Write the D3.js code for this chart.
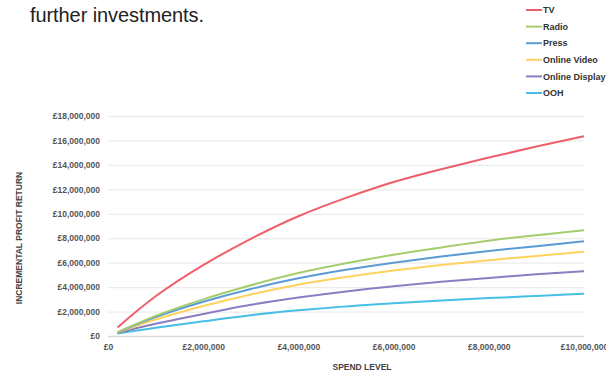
<meta charset="utf-8">
<head>
    <script type="text/javascript" src="https://cdn.jsdelivr.net/npm/d3@7"></script>
    <style>
        body { margin: 0; background: #fff; }
    </style>
</head>
<body>
    <svg width=606 height=372></svg>
</body>
<script>
    // spend levels (£) and incremental profit return (£m) per channel
    let spend = [200000, 1000000, 2000000, 3000000, 4000000, 5000000, 6000000, 7000000, 8000000, 9000000, 10000000];
    let tv = [0.7, 3.25, 5.8, 7.95, 9.8, 11.3, 12.6, 13.65, 14.6, 15.5, 16.35];
    let radio = [0.3, 1.65, 3.0, 4.15, 5.15, 5.95, 6.65, 7.25, 7.8, 8.25, 8.65];
    let press = [0.3, 1.55, 2.8, 3.85, 4.72, 5.42, 6.0, 6.5, 6.95, 7.35, 7.75];
    let onlineVideo = [0.3, 1.35, 2.45, 3.4, 4.2, 4.82, 5.35, 5.8, 6.2, 6.55, 6.9];
    let onlineDisplay = [0.25, 1.0, 1.8, 2.55, 3.15, 3.65, 4.07, 4.43, 4.75, 5.05, 5.3];
    let ooh = [0.2, 0.68, 1.2, 1.7, 2.1, 2.42, 2.68, 2.9, 3.1, 3.28, 3.45];

    let seriesNames = ["TV", "Radio", "Press", "Online Video", "Online Display", "OOH"];
    let seriesValues = [tv, radio, press, onlineVideo, onlineDisplay, ooh];
    let colors = ["#ef5f69", "#a6cd6c", "#5b9bd5", "#ffd25e", "#8b7dc0", "#46bfe6"];

    let yTicks = [0, 2e6, 4e6, 6e6, 8e6, 10e6, 12e6, 14e6, 16e6, 18e6];
    let xTicks = [0, 2e6, 4e6, 6e6, 8e6, 10e6];

    let fmt = function (v) { return "£" + d3.format(",")(v) };

    let svg = d3.select('svg');
    let labelFont = "'Liberation Sans', Arial, sans-serif";

    let x = d3.scaleLinear().domain([0, 10e6]).range([108, 584]);
    let y = d3.scaleLinear().domain([0, 18e6]).range([336, 116]);

    // heading
    svg.append("text")
        .attr("x", 30)
        .attr("y", 22)
        .attr("font-family", labelFont)
        .attr("font-size", 20)
        .attr("fill", "#222")
        .attr("textLength", 174)
        .text("further investments.");

    // gridlines + y labels
    let yAxis = svg.append("g")
        .attr("transform", "translate(108,0)")
        .call(d3.axisLeft(y).tickValues(yTicks).tickSize(-476).tickPadding(8).tickFormat(fmt));
    yAxis.select(".domain").remove();
    yAxis.selectAll(".tick line")
        .attr("stroke", function (d) { return d == 0 ? "#d9d9d9" : "#ececec" })
        .attr("stroke-width", 1.3);
    yAxis.selectAll("text")
        .attr("font-family", labelFont)
        .attr("font-size", 8.5)
        .attr("font-weight", "bold")
        .attr("fill", "#555");

    let xAxis = svg.append("g")
        .attr("transform", "translate(0,336)")
        .call(d3.axisBottom(x).tickValues(xTicks).tickSize(0).tickPadding(8).tickFormat(fmt));
    xAxis.select(".domain").remove();
    xAxis.selectAll("text")
        .attr("font-family", labelFont)
        .attr("font-size", 8.5)
        .attr("font-weight", "bold")
        .attr("fill", "#555");

    // axis titles
    svg.append("text")
        .attr("x", 362)
        .attr("y", 370)
        .attr("text-anchor", "middle")
        .attr("font-family", labelFont)
        .attr("font-size", 8.5)
        .attr("font-weight", "bold")
        .attr("fill", "#444")
        .text("SPEND LEVEL");

    svg.append("text")
        .attr("transform", "translate(22,238) rotate(-90)")
        .attr("text-anchor", "middle")
        .attr("font-family", labelFont)
        .attr("font-size", 8.5)
        .attr("font-weight", "bold")
        .attr("fill", "#444")
        .text("INCREMENTAL PROFIT RETURN");

    // curves
    let line = d3.line()
        .x(function (d, i) { return x(spend[i]) })
        .y(function (d) { return y(d * 1e6) })
        .curve(d3.curveNatural);

    svg.append("g")
        .selectAll("path")
        .data(seriesValues.slice().reverse())
        .enter()
        .append("path")
        .attr("d", line)
        .attr("fill", "none")
        .attr("stroke", function (d, i) { return colors[colors.length - 1 - i] })
        .attr("stroke-width", 2);

    // legend
    let legend = svg.append("g")
        .selectAll("g")
        .data(seriesNames)
        .enter()
        .append("g")
        .attr("transform", function (d, i) { return `translate(526, ${10 + i * 16.6})` });

    legend.append("line")
        .attr("x1", 0).attr("x2", 16)
        .attr("stroke", function (d, i) { return colors[i] })
        .attr("stroke-width", 2);

    legend.append("text")
        .attr("x", 17)
        .attr("dy", ".35em")
        .attr("font-family", labelFont)
        .attr("font-size", 9)
        .attr("font-weight", "bold")
        .attr("fill", "#333")
        .text(function (d) { return d });
</script>
